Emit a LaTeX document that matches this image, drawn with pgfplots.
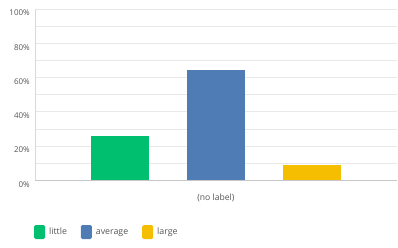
\documentclass[border=0pt]{standalone}
\usepackage{pgfplots}
\pgfplotsset{compat=1.18}
\usepackage{fontspec}
\setmainfont{Open Sans}
\definecolor{cgreen}{HTML}{00BF6F}
\definecolor{cblue}{HTML}{507CB6}
\definecolor{cyellow}{HTML}{F6BE00}
\definecolor{cgrid}{HTML}{E8E8E8}
\definecolor{ctext}{HTML}{555555}
\begin{document}
\begin{tikzpicture}
\useasboundingbox (0,0) rectangle (398pt,248pt);
\begin{axis}[
  at={(35pt,67.7pt)}, anchor=south west,
  scale only axis, width=361.7pt, height=171.3pt,
  xmin=-1, xmax=1, ymin=0, ymax=100,
  ybar=38.4pt, bar width=57.8pt,
  axis x line*=bottom, axis y line*=left,
  x axis line style={draw=black!22, line width=0.8pt},
  y axis line style={draw=black!15, line width=0.8pt},
  xtick={0}, xticklabels={(no label)},
  ytick={0,20,...,100}, minor ytick={10,30,...,90},
  yticklabel={\pgfmathprintnumber{\tick}\%},
  major tick length=0pt, minor tick length=0pt,
  ymajorgrids, yminorgrids,
  major grid style={draw=cgrid, line width=0.8pt},
  minor grid style={draw=cgrid, line width=0.8pt},
  /pgf/number format/assume math mode=true,
  yticklabel style={font=\fontsize{8}{9}\selectfont, text=ctext, inner sep=0pt, xshift=-5pt, yshift=-4pt},
  xticklabel style={font=\fontsize{8.6}{10}\selectfont, text=ctext, inner sep=0pt, yshift=-13pt},
  legend columns=3,
  legend style={at={(axis description cs:-0.003,-0.302)}, anchor=west, draw=none, fill=none,
    inner sep=0pt, font=\fontsize{8.8}{10}\selectfont, text=ctext,
    nodes={inner sep=0pt, text height=6.5pt, text depth=2pt},
    /tikz/every odd column/.append style={column sep=4pt},
    /tikz/every even column/.append style={column sep=14pt}},
  legend image code/.code={\draw[#1, draw=none, rounded corners=1.5pt] (0pt,-7pt) rectangle (11pt,7pt);},
]
\addplot[fill=cgreen, draw=none] coordinates {(0,25.7)};
\addplot[fill=cblue, draw=none] coordinates {(0,64.3)};
\addplot[fill=cyellow, draw=none] coordinates {(0,9.0)};
\legend{little, average, large}
\end{axis}
\end{tikzpicture}
\end{document}
